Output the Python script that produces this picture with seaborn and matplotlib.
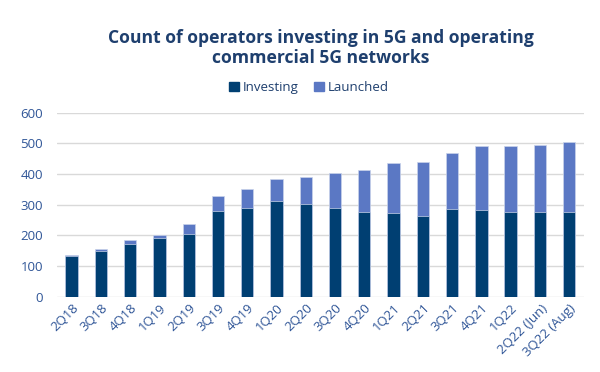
import pandas as pd
import matplotlib.pyplot as plt
import seaborn as sns
from matplotlib.patches import Patch

quarters = ["2Q18", "3Q18", "4Q18", "1Q19", "2Q19", "3Q19", "4Q19", "1Q20", "2Q20",
            "3Q20", "4Q20", "1Q21", "2Q21", "3Q21", "4Q21", "1Q22", "2Q22 (Jun)", "3Q22 (Aug)"]
investing = [132, 148, 173, 192, 206, 278, 288, 311, 303, 289, 277, 274, 264, 285, 282, 277, 277, 277]
launched = [3, 6, 11, 9, 30, 51, 62, 72, 86, 114, 135, 162, 175, 183, 208, 214, 218, 226]

df = pd.DataFrame({"quarter": quarters, "Investing": investing, "Launched": launched})
df["total"] = df["Investing"] + df["Launched"]

c_inv = "#003f72"
c_lau = "#5b78c4"
c_text = "#1e3f6e"

sns.set_style("white")
plt.rcParams["font.family"] = ["Open Sans", "DejaVu Sans"]

fig = plt.figure(figsize=(6, 3.72), dpi=100)
ax = fig.add_axes([0.095, 0.2024, 0.878, 0.4946])

# stacked bars: total first (launched colour), investing drawn on top
sns.barplot(data=df, x="quarter", y="total", color=c_lau, width=0.42,
            saturation=1, ax=ax, edgecolor="#c9d3ea", linewidth=0.5)
sns.barplot(data=df, x="quarter", y="Investing", color=c_inv, width=0.42,
            saturation=1, ax=ax, edgecolor="#c9d3ea", linewidth=0.5)

ax.set_ylim(0, 600)
ax.set_yticks(range(0, 601, 100))
ax.yaxis.grid(True, color="#d9d9d9", linewidth=1)
ax.set_axisbelow(True)
ax.set_xlim(-0.5, len(quarters) - 0.5)
for s in ax.spines.values():
    s.set_visible(False)
ax.set_xlabel("")
ax.set_ylabel("")
ax.tick_params(axis="both", length=0, labelsize=9.5, labelcolor="#2f5597")
ax.tick_params(axis="y", pad=10)
plt.setp(ax.get_xticklabels(), rotation=45, ha="right", rotation_mode="anchor")

fig.text(0.535, 0.871, "Count of operators investing in 5G and operating\ncommercial 5G networks",
         ha="center", va="center", fontsize=12.6, fontweight="bold", color=c_text,
         linespacing=1.15)

handles = [Patch(color=c_inv, label="Investing"), Patch(color=c_lau, label="Launched")]
fig.legend(handles=handles, loc="center", bbox_to_anchor=(0.515, 0.765), ncol=2,
           frameon=False, fontsize=9.5, handlelength=0.7, handleheight=0.7,
           handletextpad=0.3, columnspacing=1.2, labelcolor=c_text)

fig.savefig("out.png", dpi=100)
